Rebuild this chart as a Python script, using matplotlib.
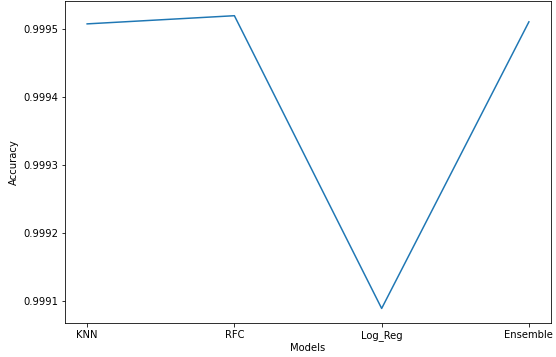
import matplotlib
matplotlib.use("Agg")
from matplotlib import pyplot as plt

models = ["KNN", "RFC", "Log_Reg", "Ensemble"]
accuracy = [0.999507, 0.999519, 0.999089, 0.999510]

fig = plt.figure(figsize=(556 / 72, 357 / 72), dpi=72)
ax = fig.add_axes([0.117, 0.095, 0.874, 0.902])
ax.plot(models, accuracy, color="#1f77b4", lw=1.5)
ax.set_xlabel("Models", fontsize=10, labelpad=2)
ax.set_ylabel("Accuracy", fontsize=10)
ax.tick_params(labelsize=10)
ax.ticklabel_format(axis="y", useOffset=False, style="plain")
fig.savefig("out.png", dpi=72)
